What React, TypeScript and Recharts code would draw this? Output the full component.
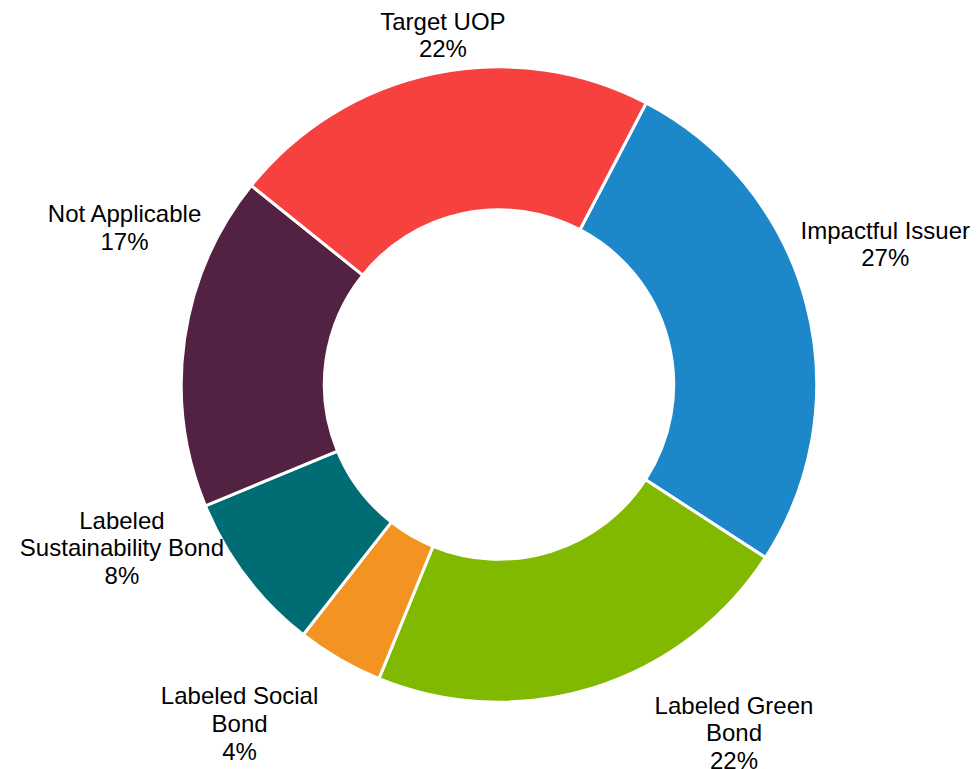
import { PieChart, Pie, Cell } from 'recharts';

const categories = [
  'Impactful Issuer',
  'Labeled Green\nBond',
  'Labeled Social\nBond',
  'Labeled\nSustainability Bond',
  'Not Applicable',
  'Target UOP',
];
const shares = [26.5, 22.0, 4.4, 8.2, 17.0, 21.9];
const colors = ['#1d88c9', '#80b900', '#f39321', '#006c73', '#532243', '#f7413e'];

// labels were placed by hand in the original, so nudge each one from the
// outer mid point of its slice
const labelOffsets = [
  [79, -65],
  [140, 26],
  [-100, 45],
  [-124, -48],
  [-60, -117],
  [9, -44],
];

const data = categories.map((name, i) => ({ name, value: shares[i] }));

const RADIAN = Math.PI / 180;
const LINE_HEIGHT = 27.6;

const renderLabel = (props: any) => {
  const { cx, cy, midAngle, outerRadius, percent, index } = props;
  const px = cx + outerRadius * Math.cos(-midAngle * RADIAN);
  const py = cy + outerRadius * Math.sin(-midAngle * RADIAN);
  const [dx, dy] = labelOffsets[index];
  const x = px + dx;
  const lines = [...categories[index].split('\n'), `${Math.round(percent * 100)}%`];
  return (
    <text
      x={x}
      y={py + dy}
      textAnchor='middle'
      fill='#000'
      fontSize={24}
      fontFamily='"Liberation Sans", Arial, sans-serif'
    >
      {lines.map((line, i) => (
        <tspan key={i} x={x} dy={i === 0 ? 0 : LINE_HEIGHT}>
          {line}
        </tspan>
      ))}
    </text>
  );
};

const App = () => {
  return (
    <div style={{ position: 'absolute', left: 0, top: 0, background: '#fff' }}>
      <PieChart width={978} height={769} margin={{ top: 0, right: 0, bottom: 0, left: 0 }}>
        <Pie
          data={data}
          dataKey='value'
          nameKey='name'
          cx={499}
          cy={384.5}
          innerRadius={174.7}
          outerRadius={317.7}
          startAngle={62.4}
          endAngle={-297.6}
          stroke='#ffffff'
          strokeWidth={3}
          label={renderLabel}
          labelLine={false}
          isAnimationActive={false}
        >
          {data.map((entry, i) => (
            <Cell key={entry.name} fill={colors[i]} />
          ))}
        </Pie>
      </PieChart>
    </div>
  );
};

export default App;
